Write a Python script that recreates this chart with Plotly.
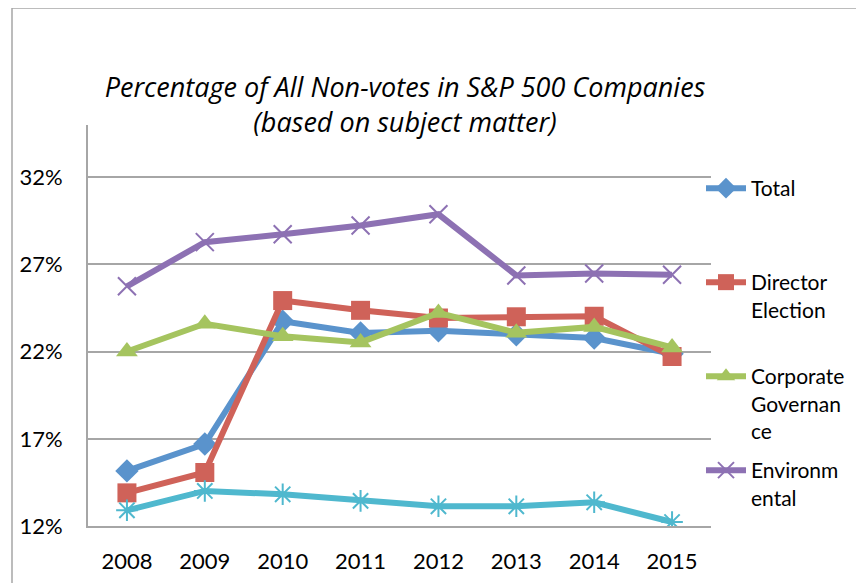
import plotly.graph_objects as go

years = ["2008", "2009", "2010", "2011", "2012", "2013", "2014", "2015"]
total = [0.1516, 0.1670, 0.2374, 0.2307, 0.2320, 0.2297, 0.2278, 0.2188]
director_election = [0.1390, 0.1507, 0.2493, 0.2437, 0.2393, 0.2400, 0.2403, 0.2172]
corporate_governance = [0.2201, 0.2360, 0.2288, 0.2253, 0.2422, 0.2308, 0.2342, 0.2224]
environmental = [0.2575, 0.2828, 0.2873, 0.2924, 0.2988, 0.2637, 0.2648, 0.2641]
other = [0.1290, 0.1401, 0.1382, 0.1344, 0.1313, 0.1313, 0.1336, 0.1223]
y_ticks = [0.12, 0.17, 0.22, 0.27, 0.32]

FONT = "Lato"
OFF = 8  # page body margin offset
W, H = 864, 583
L, R, T, B = 88 - OFF, 153 + OFF, 125 - OFF, 57 + OFF
plot_h = H - T - B

def ypaper(px):
    return (H - B - (px - OFF)) / plot_h

def xpaper(px):
    return ((px - OFF) - L) / (W - L - R)

series = [
    ("Total", total, "#5A93CC", "diamond", 18, None, "legend", 188),
    ("Director<br>Election", director_election, "#CF6259", "square", 19, None, "legend2", 282),
    ("Corporate<br>Governan<br>ce", corporate_governance, "#A5C45F", "triangle-up", 19, None, "legend3", 376),
    ("Environm<br>ental", environmental, "#8D71B3", "x-thin-open", 18, 2, "legend4", 470),
    ("Other", other, "#4FB8CE", "asterisk-open", 18, 2, None, None),
]

fig = go.Figure()
for name, vals, color, sym, size, lw, leg, _ in series:
    marker = dict(symbol=sym, size=size, color=color)
    if lw:
        marker["line"] = dict(color=color, width=lw)
    fig.add_trace(go.Scatter(
        x=years, y=vals, name=name, mode="lines+markers",
        line=dict(color=color, width=6), marker=marker,
        showlegend=leg is not None, legend=leg if leg else "legend",
    ))

legend_common = dict(
    font=dict(family=FONT, size=21, color="#000000"),
    bgcolor="rgba(0,0,0,0)", borderwidth=0, valign="top",
    xanchor="left", yanchor="top", itemwidth=40,
)
layout_legends = {}
for name, vals, color, sym, size, lw, leg, ypx in series:
    if leg:
        layout_legends[leg] = dict(legend_common, x=xpaper(701), y=ypaper(ypx - 20))

fig.update_layout(
    width=W, height=H,
    margin=dict(l=L, r=R, t=T, b=B, pad=0),
    paper_bgcolor="white", plot_bgcolor="white",
    font=dict(family=FONT, color="#000000"),
    title=dict(
        text="Percentage of All Non-votes in S&P 500 Companies<br>(based on subject matter)",
        font=dict(family="Open Sans", size=27, color="#000000", style="italic"),
        x=(405 - OFF) / W, xanchor="center", xref="container",
        y=1 - (97 - OFF) / H, yanchor="top", yref="container",
    ),
    xaxis=dict(
        type="category", range=[-0.5, 7.5], showgrid=False,
        showline=True, linecolor="#A6A6A6", linewidth=2,
        ticks="outside", ticklen=15, tickcolor="rgba(0,0,0,0)",
        tickfont=dict(family=FONT, size=22, color="#000000"),
        zeroline=False,
    ),
    yaxis=dict(
        range=[0.12, 0.35], tickvals=y_ticks, tickformat=".0%",
        showgrid=True, gridcolor="#A6A6A6", gridwidth=2,
        showline=True, linecolor="#A6A6A6", linewidth=2,
        ticks="outside", ticklen=19, tickcolor="rgba(0,0,0,0)",
        tickfont=dict(family=FONT, size=22, color="#000000"),
        zeroline=False,
    ),
    shapes=[
        dict(type="line", xref="paper", yref="paper",
             x0=xpaper(12), x1=xpaper(W + 20), y0=ypaper(8), y1=ypaper(8),
             line=dict(color="#A6A6A6", width=1.5)),
        dict(type="line", xref="paper", yref="paper",
             x0=xpaper(12), x1=xpaper(12), y0=ypaper(8), y1=ypaper(H + 20),
             line=dict(color="#A6A6A6", width=1.5)),
    ],
    **layout_legends,
)

fig.write_html("out.html")
